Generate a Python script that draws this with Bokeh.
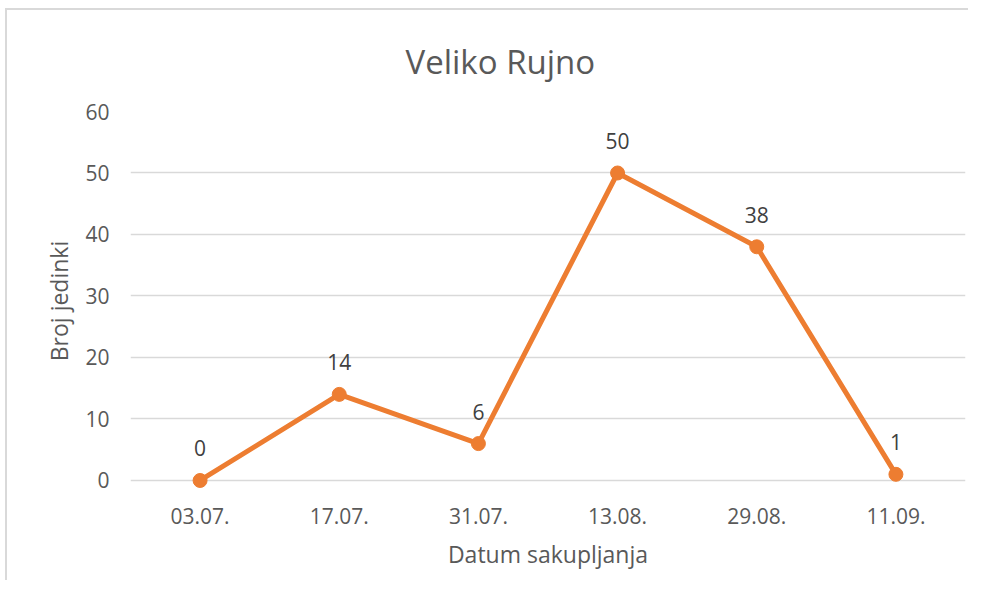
from bokeh.plotting import figure
from bokeh.models import ColumnDataSource, FixedTicker
from bokeh.core.properties import value
from bokeh.embed import file_html
from bokeh.resources import INLINE

dates = ["03.07.", "17.07.", "31.07.", "13.08.", "29.08.", "11.09."]
counts = [0, 14, 6, 50, 38, 1]
y_ticks = [0, 10, 20, 30, 40, 50, 60]

title_text = "Veliko Rujno"
x_title = "Datum sakupljanja"
y_title = "Broj jedinki"

FONT = "Open Sans"
ORANGE = "#ED7D31"
GRAY_TXT = "#595959"

src = ColumnDataSource(dict(x=dates, y=counts, lbl=[str(c) for c in counts]))

# y range extended slightly below 0 so the marker at 0 is not clipped
p = figure(width=963, height=572, x_range=dates, y_range=(-1.63, 60),
           output_backend="svg", toolbar_location=None,
           min_border_left=123, min_border_right=5,
           min_border_top=101, min_border_bottom=92)
p.styles = {"border-left": "2px solid #d9d9d9", "border-top": "2px solid #d9d9d9",
            "margin-left": "5px", "margin-top": "8px"}
p.outline_line_color = None
p.background_fill_color = "white"

p.title.text = title_text
p.title.align = "left"
p.title.offset = 275
p.title.text_font = FONT
p.title.text_font_size = "33px"
p.title.text_font_style = "normal"
p.title.text_color = GRAY_TXT
p.title.vertical_align = "top"
p.title.standoff = 52

p.line("x", "y", source=src, line_color=ORANGE, line_width=5)
p.scatter("x", "y", source=src, size=14, fill_color=ORANGE, line_color=ORANGE)
p.text("x", "y", text="lbl", source=src, y_offset=-32, text_align="center",
       text_baseline="middle", text_font=value(FONT), text_font_size="21px",
       text_color="#404040")

# axes
for ax in (p.xaxis[0], p.yaxis[0]):
    ax.axis_line_color = None
    ax.major_tick_line_color = None
    ax.minor_tick_line_color = None
    ax.major_label_text_font = FONT
    ax.major_label_text_font_size = "21px"
    ax.major_label_text_color = GRAY_TXT
    ax.axis_label_text_font = FONT
    ax.axis_label_text_font_size = "23px"
    ax.axis_label_text_font_style = "normal"
    ax.axis_label_text_color = GRAY_TXT

p.yaxis.ticker = FixedTicker(ticks=y_ticks)
p.yaxis.major_label_standoff = 15
p.xaxis.major_label_standoff = 11
p.xaxis.axis_label = x_title
p.yaxis.axis_label = y_title
p.xaxis.axis_label_standoff = 11
p.yaxis.axis_label_standoff = 7

p.xgrid.grid_line_color = None
p.ygrid.grid_line_color = "#d9d9d9"
p.ygrid.grid_line_width = 1.5
p.x_range.range_padding = 0

open("out.html", "w").write(file_html(p, INLINE))
